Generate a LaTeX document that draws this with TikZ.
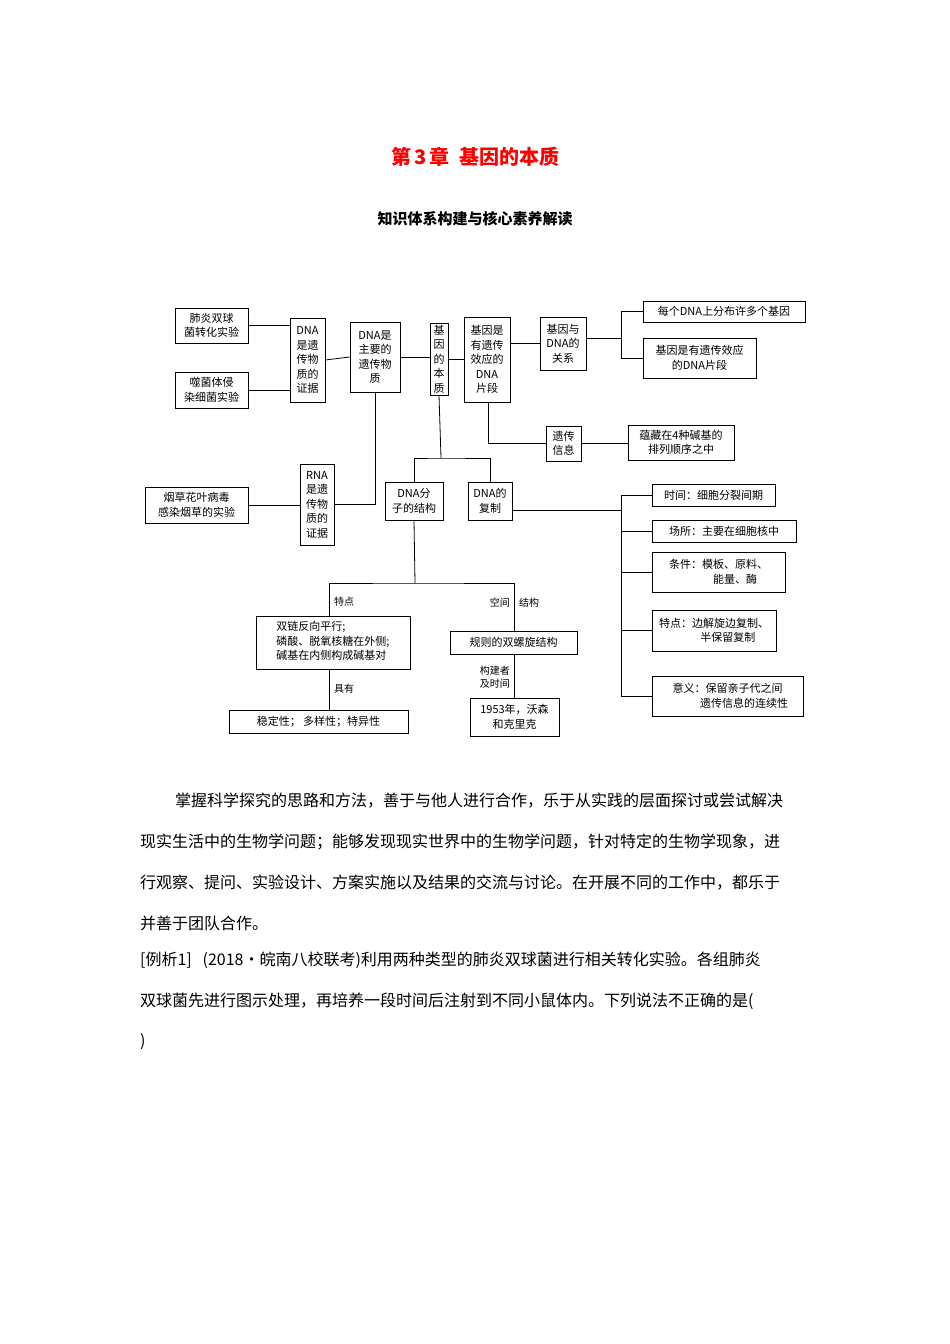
\documentclass[tikz,border=0pt]{standalone}
\usepackage{fontspec}
\setmainfont{Noto Sans CJK SC}
\newfontfamily\cjkb{Noto Sans CJK SC Bold}
\begin{document}
\begin{tikzpicture}[x=1pt,y=-1pt,
  bx/.style={draw,line width=0.8pt,inner sep=0pt,align=center,font=\fontsize{11}{14.5}\selectfont},
  ln/.style={line width=0.8pt},
  lb/.style={font=\fontsize{10}{13}\selectfont,inner sep=1pt},
  para/.style={anchor=base west,inner sep=0pt,font=\fontsize{16}{20}\selectfont}]
\useasboundingbox (0,0) rectangle (950,1344);
\newcommand\bx[6]{\node[bx,minimum width={(#4-#2)*1pt},minimum height={(#5-#3)*1pt}] (#1) at ({(#2+#4)/2},{(#3+#5)/2}) {#6};}
\node[text=red,font=\fontsize{20}{24}\bfseries\selectfont] (title) at (475,157) {第\,3\,章\ \ 基因的本质};
\node[font=\fontsize{15}{18}\bfseries\selectfont] (sub) at (475,219) {知识体系构建与核心素养解读};
% boxes
\bx{fy}{175}{308}{248}{343}{肺炎双球\\菌转化实验}
\bx{sj}{175}{372}{248}{408}{噬菌体侵\\染细菌实验}
\bx{zj}{290}{318}{325}{402}{DNA\\是遗\\传物\\质的\\证据}
\bx{zy}{350}{322}{400}{392}{DNA是\\主要的\\遗传物\\质}
\bx{bz}{430}{323}{448}{395}{基\\因\\的\\本\\质}
\bx{jy}{464}{317}{510}{402}{基因是\\有遗传\\效应的\\DNA\\片段}
\bx{gx}{540}{317}{586}{370}{基因与\\DNA的\\关系}
\bx{mg}{643}{301}{805}{322}{每个DNA上分布许多个基因}
\bx{jy2}{643}{338}{756}{378}{基因是有遗传效应\\的DNA片段}
\bx{yc}{546}{426}{581}{461}{遗传\\信息}
\bx{yz}{628}{425}{734}{460}{蕴藏在4种碱基的\\排列顺序之中}
\bx{yc2}{145}{487}{248}{523}{烟草花叶病毒\\感染烟草的实验}
\bx{rna}{300}{464}{334}{545}{RNA\\是遗\\传物\\质的\\证据}
\bx{fz}{385}{482}{443}{520}{DNA分\\子的结构}
\bx{fz2}{468}{482}{512}{520}{DNA的\\复制}
\bx{sjj}{652}{484}{775}{506}{时间：细胞分裂间期}
\bx{cs}{652}{520}{796}{542}{场所：主要在细胞核中}
\bx{tj}{652}{552}{785}{592}{条件：模板、原料、\\\hspace*{3em}能量、酶}
\bx{td}{652}{610}{776}{651}{特点：边解旋边复制、\\\hspace*{2.5em}半保留复制}
\bx{yy}{652}{676}{803}{716}{意义：保留亲子代之间\\\hspace*{3em}遗传信息的连续性}
\bx{sl}{256}{616}{410}{669}{\begin{tabular}{@{}l@{}}双链反向平行;\\磷酸、脱氧核糖在外侧;\\碱基在内侧构成碱基对\end{tabular}}
\bx{gz}{450}{631}{577}{654}{规则的双螺旋结构}
\bx{wd}{229}{710}{408}{733}{稳定性；\ 多样性；特异性}
\bx{ws}{470}{698}{559}{736}{1953年，沃森\\和克里克}
% connectors
\draw[ln] (fy.east) -- (fy.east -| zj.west);
\draw[ln] (sj.east) -- (sj.east -| zj.west);
\draw[ln] (zj.east) -- (zy.west);
\draw[ln] (zy.east) -- (zy.east -| bz.west);
\draw[ln] (bz.east) -- (bz.east -| jy.west);
\draw[ln] (jy.east |- gx.west) -- (gx.west);
\coordinate (j1) at (621,338);
\draw[ln] (gx.east |- j1) -- (j1);
\draw[ln] (j1 |- mg.west) -- (j1 |- jy2.west);
\draw[ln] (j1 |- mg.west) -- (mg.west);
\draw[ln] (j1 |- jy2.west) -- (jy2.west);
\draw[ln] (488,402) |- (yc.west);
\draw[ln] (yc.east) -- (yc.east -| yz.west);
\coordinate (j2) at (441,458);
\draw[ln] (bz.south) -- (j2);
\draw[ln] (fz.north) |- (j2) -| (fz2.north);
\draw[ln] (zy.south) |- (rna.east);
\draw[ln] (yc2.east) -- (yc2.east -| rna.west);
\coordinate (j3) at (621,510);
\draw[ln] (fz2.east |- j3) -- (j3);
\draw[ln] (j3 |- sjj.west) -- (j3 |- yy.west);
\foreach \n in {sjj,cs,tj,td,yy} \draw[ln] (j3 |- \n.west) -- (\n.west);
\coordinate (j4) at (415,583);
\draw[ln] (fz.south) -- (j4);
\draw[ln] (sl.north -| 329,0) |- (j4) -| (gz.north -| 514,0);
\draw[ln] (329,669) -- (329,710);
\draw[ln] (514,654) -- (514,698);
\node[lb,anchor=west] (l1) at (333,602) {特点};
\node[lb,anchor=east] (l2) at (511,603) {空间};
\node[lb,anchor=west] (l3) at (518,603) {结构};
\node[lb,anchor=west] (l4) at (333,689) {具有};
\node[lb,anchor=east,align=center] (l5) at (511,677) {构建者\\及时间};
% paragraph
\node[para] (p1) at (175,806) {掌握科学探究的思路和方法，善于与他人进行合作，乐于从实践的层面探讨或尝试解决};
\node[para] (p2) at (140,847) {现实生活中的生物学问题；能够发现现实世界中的生物学问题，针对特定的生物学现象，进};
\node[para] (p3) at (140,888) {行观察、提问、实验设计、方案实施以及结果的交流与讨论。在开展不同的工作中，都乐于};
\node[para] (p4) at (140,929) {并善于团队合作。};
\node[para] (p5) at (140,965) {[例析1]\ \ \ (2018·皖南八校联考)利用两种类型的肺炎双球菌进行相关转化实验。各组肺炎};
\node[para] (p6) at (140,1006) {双球菌先进行图示处理，再培养一段时间后注射到不同小鼠体内。下列说法不正确的是(};
\node[para] (p7) at (140,1046) {)};
\end{tikzpicture}
\end{document}
